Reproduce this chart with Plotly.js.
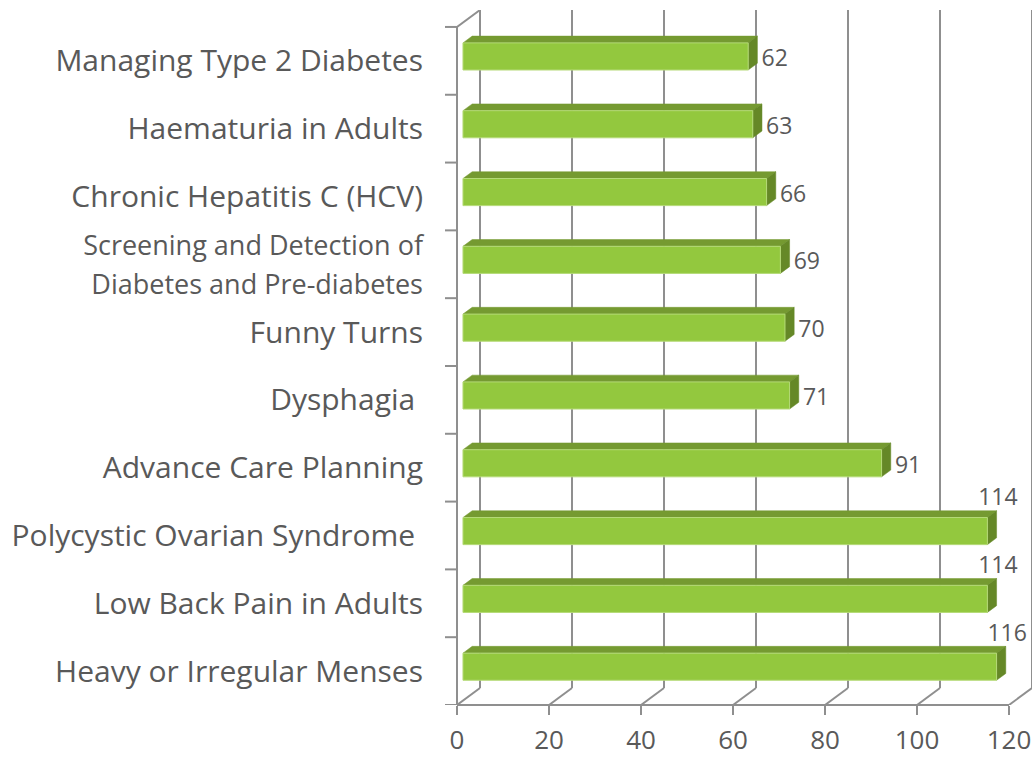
<!DOCTYPE html>
<html><head><meta charset="utf-8">
<script src="https://cdn.plot.ly/plotly-3.0.1.min.js"></script>
<style>html,body{margin:0;padding:0;background:#fff}</style>
</head><body><div id="chart" style="width:1033px;height:758px"></div>
<script>
// Data (bottom to top)
const categories = [
  "Heavy or Irregular Menses",
  "Low Back Pain in Adults",
  "Polycystic Ovarian Syndrome\u00a0",
  "Advance Care Planning",
  "Dysphagia\u00a0",
  "Funny Turns",
  "<span style=\"font-size:27px\">Screening and Detection of<br>Diabetes and Pre-diabetes</span>",
  "Chronic Hepatitis C (HCV)",
  "Haematuria in Adults",
  "Managing Type 2 Diabetes"
];
const values = [116, 114, 114, 91, 71, 70, 69, 66, 63, 62];
const xTicks = [0, 20, 40, 60, 80, 100, 120];

// 3D geometry (depth offsets in axis units)
const DX = 5, DY = 0.25, F1 = 0.26, F2 = 0.66, H = 0.2;
const GRID = '#8f8f8f', TXT = '#595959';
const FONT = '"Open Sans", "Noto Sans", sans-serif';

const traces = [];
values.forEach((v, i) => {
  const yb1 = i + F1 * DY - H, yt1 = i + F1 * DY + H;
  const yb2 = i + F2 * DY - H, yt2 = i + F2 * DY + H;
  const x0f = F1 * DX, x0b = F2 * DX, x1f = v + F1 * DX, x1b = v + F2 * DX;
  traces.push({type: 'scatter', mode: 'lines', fill: 'toself', hoverinfo: 'skip',
    x: [x0f, x1f, x1b, x0b, x0f], y: [yt1, yt1, yt2, yt2, yt1],
    fillcolor: '#759a31', line: {color: '#759a31', width: 0.5}});
  traces.push({type: 'scatter', mode: 'lines', fill: 'toself', hoverinfo: 'skip',
    x: [x1f, x1f, x1b, x1b, x1f], y: [yb1, yt1, yt2, yb2, yb1],
    fillcolor: '#658827', line: {color: '#658827', width: 0.5}});
  traces.push({type: 'scatter', mode: 'lines', fill: 'toself', hoverinfo: 'skip',
    x: [x0f, x1f, x1f, x0f, x0f], y: [yb1, yb1, yt1, yt1, yb1],
    fillcolor: '#93c83e', line: {color: '#b5da78', width: 1}});
});

// data labels
const lx = [], ly = [], lt = [], lp = [];
values.forEach((v, i) => {
  lt.push(String(v));
  if (v > 100) {
    lx.push(v + F2 * DX + 0.3);
    ly.push(i + F2 * DY + H);
    lp.push('top center');
  } else {
    lx.push(v + F2 * DX + 0.9);
    ly.push(i + 0.01);
    lp.push('middle right');
  }
});
traces.push({type: 'scatter', mode: 'text', x: lx, y: ly, text: lt, textposition: lp,
  cliponaxis: false, hoverinfo: 'skip',
  textfont: {family: FONT, size: 23, color: TXT}});

// walls / gridlines
const shapes = [];
const ln = {color: GRID, width: 2};
xTicks.forEach(t => {
  shapes.push({type: 'line', xref: 'x', yref: 'y', x0: t + DX, x1: t + DX, y0: -DY, y1: 9.5 + DY, line: ln, layer: 'below'});
  shapes.push({type: 'line', xref: 'x', yref: 'y', x0: t, x1: t + DX, y0: -0.5, y1: -0.5 + DY, line: ln, layer: 'below'});
});
shapes.push({type: 'line', xref: 'paper', yref: 'y', x0: 0, x1: 0, y0: -0.5, y1: 9.5, line: ln, layer: 'below'});
shapes.push({type: 'line', xref: 'x', yref: 'y', x0: 0, x1: DX, y0: 9.5, y1: 9.5 + DY, line: ln, layer: 'below'});
shapes.push({type: 'line', xref: 'x', yref: 'paper', x0: 0, x1: 120, y0: 0, y1: 0, line: ln, layer: 'below'});
for (let k = 0; k <= categories.length; k++) {
  shapes.push({type: 'line', xref: 'paper', yref: 'y', x0: -12 / 575, x1: 0, y0: k - 0.5, y1: k - 0.5, line: ln, layer: 'below'});
}

const layout = {
  width: 1033, height: 758,
  margin: {l: 457, r: 1, t: 10, b: 53},
  paper_bgcolor: '#ffffff', plot_bgcolor: '#ffffff',
  showlegend: false, hovermode: false,
  font: {family: FONT, color: TXT},
  xaxis: {range: [0, 125], tickmode: 'array', tickvals: xTicks, ticktext: xTicks.map(String),
    ticks: 'outside', ticklen: 9, tickwidth: 2, tickcolor: GRID, ticklabelstandoff: 3,
    showgrid: false, zeroline: false, showline: false,
    tickfont: {family: FONT, size: 26, color: TXT}},
  yaxis: {range: [-0.5, 9.5 + DY], tickmode: 'array', tickvals: categories.map((c, i) => i), ticktext: categories,
    ticks: '', showgrid: false, zeroline: false, showline: false, ticklabelstandoff: 33,
    tickfont: {family: FONT, size: 30, color: TXT}},
  shapes: shapes
};

Plotly.newPlot('chart', traces, layout, {displayModeBar: false, staticPlot: true});
</script>
</body></html>
